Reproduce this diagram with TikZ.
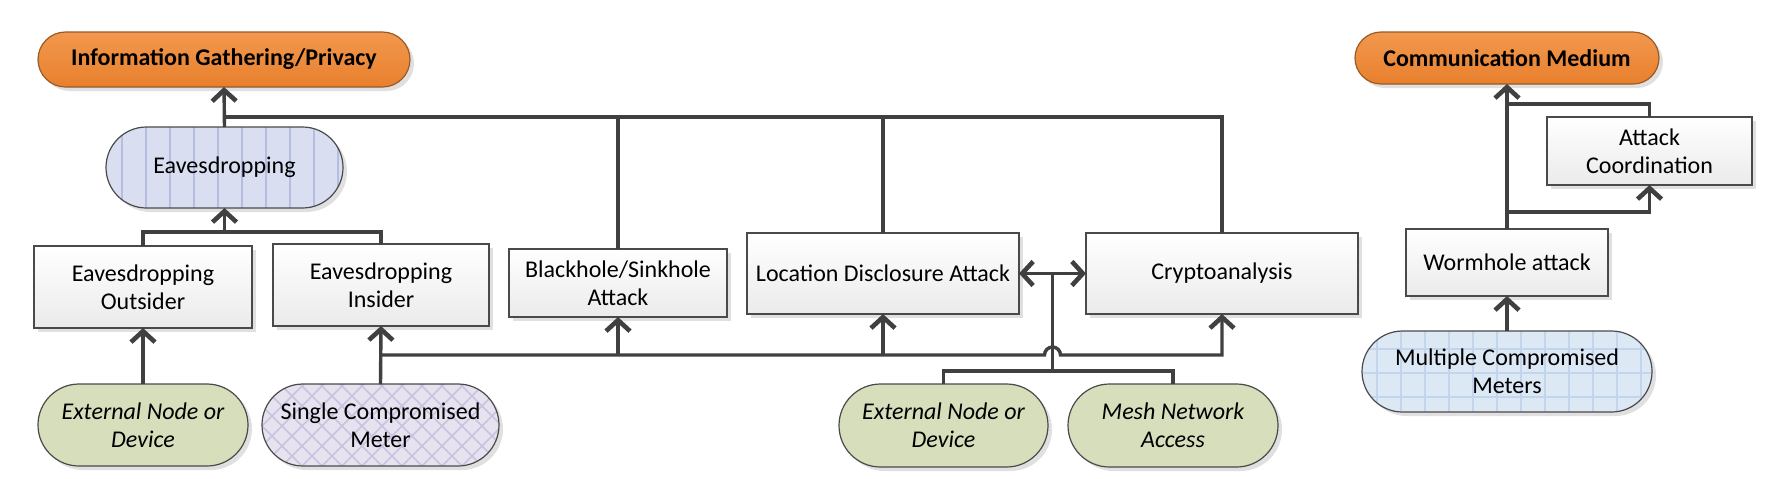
\documentclass[tikz,border=0pt]{standalone}
\usepackage{fontspec}
\setmainfont{Carlito}
\usetikzlibrary{arrows.meta,shapes.misc,shadows,calc}
\definecolor{linec}{HTML}{404040}
\definecolor{boxline}{HTML}{4A4A4A}
\definecolor{orangetop}{HTML}{F2984E}
\definecolor{orangebot}{HTML}{E8802D}
\definecolor{orangeline}{HTML}{9A5A26}
\definecolor{eavesfill}{HTML}{D9DFF0}
\definecolor{eavesstripe}{HTML}{B6BEDF}
\definecolor{greenfill}{HTML}{D6DEBC}
\definecolor{lavfill}{HTML}{E6E2F0}
\definecolor{lavhatch}{HTML}{CAC2DE}
\definecolor{bluefill}{HTML}{DDE8F5}
\definecolor{bluegrid}{HTML}{C2D5EC}
\begin{document}
\begin{tikzpicture}[x=0.5pt,y=-0.5pt,
  txt/.style={font=\fontsize{12}{14}\selectfont, align=center, text=black, inner sep=2pt, outer sep=0pt},
  shad/.style={drop shadow={shadow xshift=2pt, shadow yshift=-2pt, fill=black, opacity=0.12}},
  rbox/.style={txt, rectangle, draw=boxline, line width=0.6pt, top color=white, bottom color=black!8, shad},
  pill/.style={txt, rounded rectangle, draw=boxline, line width=0.6pt, shad},
  goal/.style={pill, top color=orangetop, bottom color=orangebot, draw=orangeline, font=\fontsize{12}{14}\selectfont\bfseries},
  greenpill/.style={pill, fill=greenfill, font=\fontsize{12}{14}\selectfont\itshape},
  conn/.style={draw=linec, line width=1.7pt},
  tipb/.tip={Straight Barb[length=5.5pt,width=12pt,line width=2.3pt]},
  arr/.style={-tipb},
  darr/.style={tipb-tipb}
]
\useasboundingbox (0,0) rectangle (1772,478);

% goals
\node[goal, minimum width=190pt, minimum height=27.5pt] (info) at (224,59.5) {Information Gathering/Privacy};
\node[goal, minimum width=156pt, minimum height=26pt] (comm) at (1507,58) {Communication Medium};

% eavesdropping (striped)
\node[pill, fill=eavesfill, minimum width=122.5pt, minimum height=40.5pt,
  path picture={\foreach \k in {0,...,10}{\draw[eavesstripe, line width=1.2pt]
    ([xshift=8pt+\k*12pt]path picture bounding box.north west) --
    ([xshift=8pt+\k*12pt]path picture bounding box.south west);}}] (eaves) at (224.5,167.5) {Eavesdropping};

% rectangles
\node[rbox, minimum width=109pt, minimum height=41pt] (out) at (143,287) {Eavesdropping\\Outsider};
\node[rbox, minimum width=108pt, minimum height=41pt] (ins) at (381,285) {Eavesdropping\\Insider};
\node[rbox, minimum width=109pt, minimum height=34pt] (bh) at (618,283) {Blackhole/Sinkhole\\Attack};
\node[rbox, minimum width=136pt, minimum height=40.5pt] (loc) at (883,273.5) {Location Disclosure Attack};
\node[rbox, minimum width=136pt, minimum height=40.5pt] (cr) at (1222,273.5) {Cryptoanalysis};
\node[rbox, minimum width=102.5pt, minimum height=34pt] (att) at (1649.5,151) {Attack\\Coordination};
\node[rbox, minimum width=101pt, minimum height=33.5pt] (worm) at (1507,262.5) {Wormhole attack};

% bottom sources
\node[greenpill, minimum width=109pt, minimum height=41pt] (ext1) at (143,425) {External Node or\\Device};
\node[pill, fill=lavfill, minimum width=122.5pt, minimum height=41pt,
  path picture={\foreach \k in {-6,...,16}{
    \draw[lavhatch, line width=0.8pt] ([xshift=\k*10pt]path picture bounding box.south west) -- ++(45:90pt);
    \draw[lavhatch, line width=0.8pt] ([xshift=\k*10pt]path picture bounding box.south west) -- ++(135:90pt);}}] (sgl) at (380.5,425) {Single Compromised\\Meter};
\node[greenpill, minimum width=108.5pt, minimum height=41.5pt] (ext2) at (943.5,425.5) {External Node or\\Device};
\node[greenpill, minimum width=109pt, minimum height=41.5pt] (mesh) at (1173,425.5) {Mesh Network\\Access};
\node[pill, fill=bluefill, minimum width=149pt, minimum height=40.5pt,
  path picture={\foreach \k in {0,...,12}{\draw[bluegrid, line width=1.4pt]
    ([xshift=7.5pt+\k*12pt]path picture bounding box.north west) --
    ([xshift=7.5pt+\k*12pt]path picture bounding box.south west);}
    \foreach \k in {0,...,3}{\draw[bluegrid, line width=1.4pt]
    ([yshift=-(9pt+\k*12pt)]path picture bounding box.north west) --
    ([yshift=-(9pt+\k*12pt)]path picture bounding box.north east);}}] (multi) at (1507,371.5) {Multiple Compromised\\Meters};

% upper part, left
\draw[conn,arr] (eaves.north) -- (info.south);
\coordinate (busL) at (eaves.north |- 0,117);
\draw[conn] (busL) -| (cr.north);
\draw[conn] (bh.north) -- (bh.north |- busL);
\draw[conn] (loc.north) -- (loc.north |- busL);

\coordinate (split) at (eaves.south |- 0,232);
\draw[conn] (out.north) |- (split) -| (ins.north);
\draw[conn,arr] (split) -- (eaves.south);

\draw[conn,arr] (ext1.north) -- (out.south);
\draw[conn,arr] (sgl.north) -- (ins.south);

% lower bus with bump
\coordinate (jx) at ($(loc.east)!0.5!(cr.west)$);
\coordinate (lbL) at (ins.south |- 0,355);
\draw[conn,arr] (lbL) -- ($(jx |- lbL)+(-8,0)$) arc[start angle=180, end angle=360, radius=8] -| (cr.south);
\draw[conn,arr] (bh.south |- lbL) -- (bh.south);
\draw[conn,arr] (loc.south |- lbL) -- (loc.south);

\coordinate (br) at (jx |- 0,371);
\draw[conn] (ext2.north) |- (br) -| (mesh.north);
\draw[conn] (br) -- (jx);
\draw[conn,darr] (loc.east) -- (cr.west);

% right part
\draw[conn,arr] (multi.north) -- (worm.south);
\draw[conn,arr] (worm.north) -- (comm.south);
\draw[conn] (att.north) |- (worm.north |- 0,104);
\draw[conn,arr] (worm.north |- 0,212) -| (att.south);
\end{tikzpicture}
\end{document}
